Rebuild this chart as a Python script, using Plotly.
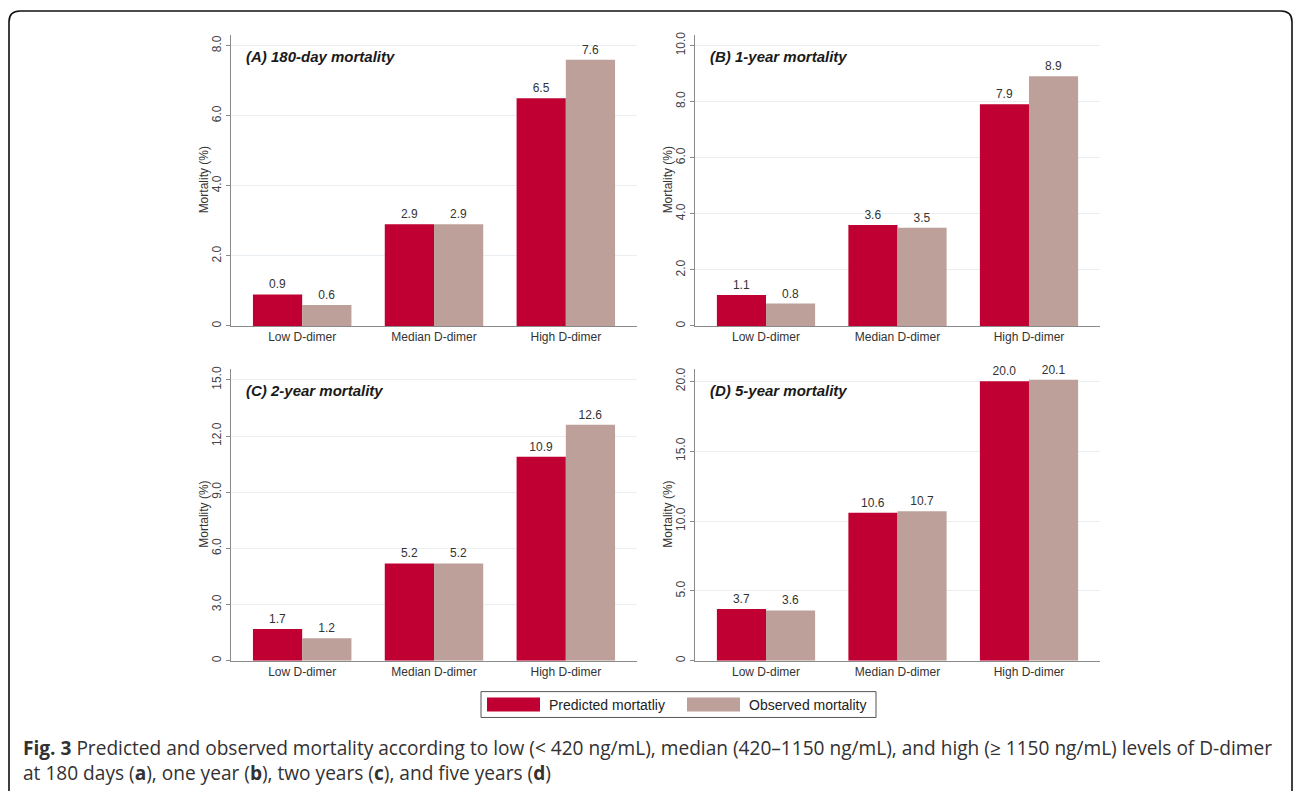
import plotly.graph_objects as go

W, H = 1296, 791

categories = ["Low D-dimer", "Median D-dimer", "High D-dimer"]
series_names = ["Predicted mortatliy", "Observed mortality"]

panel_titles = ["(A) 180-day mortality", "(B) 1-year mortality",
                "(C) 2-year mortality", "(D) 5-year mortality"]

predicted_180d = [0.9, 2.9, 6.5]
observed_180d = [0.6, 2.9, 7.6]
predicted_1y = [1.1, 3.6, 7.9]
observed_1y = [0.8, 3.5, 8.9]
predicted_2y = [1.7, 5.2, 10.9]
observed_2y = [1.2, 5.2, 12.6]
predicted_5y = [3.7, 10.6, 20.0]
observed_5y = [3.6, 10.7, 20.1]

ticks_180d = [0, 2, 4, 6, 8]
ticks_1y = [0, 2, 4, 6, 8, 10]
ticks_2y = [0, 3, 6, 9, 12, 15]
ticks_5y = [0, 5, 10, 15, 20]
ticklabels_180d = ["0", "2.0", "4.0", "6.0", "8.0"]
ticklabels_1y = ["0", "2.0", "4.0", "6.0", "8.0", "10.0"]
ticklabels_2y = ["0", "3.0", "6.0", "9.0", "12.0", "15.0"]
ticklabels_5y = ["0", "5.0", "10.0", "15.0", "20.0"]

y_max = [8.31, 10.38, 15.6, 20.9]

PRED_COLOR = "#c00032"
OBS_COLOR = "#bda09a"
FONT = "Arial, Liberation Sans, sans-serif"
TXT = "#333333"
AXIS = "#8a8a8a"
GRID = "#e8eef1"


def px_x(x):
    return x / W


def px_y(y):
    return 1 - y / H


# pixel boxes of each plot area: (left, right, top, bottom)
boxes = [(231, 637, 32, 325), (695, 1100, 32, 325),
         (231, 637, 368, 662), (695, 1100, 368, 662)]

predicted = [predicted_180d, predicted_1y, predicted_2y, predicted_5y]
observed = [observed_180d, observed_1y, observed_2y, observed_5y]
tickvals = [ticks_180d, ticks_1y, ticks_2y, ticks_5y]
ticktexts = [ticklabels_180d, ticklabels_1y, ticklabels_2y, ticklabels_5y]

fig = go.Figure()
layout = {}
annotations = []
shapes = []

for i in range(4):
    n = "" if i == 0 else str(i + 1)
    xa, ya = "x" + n, "y" + n
    for vals, color, name in ((predicted[i], PRED_COLOR, series_names[0]),
                              (observed[i], OBS_COLOR, series_names[1])):
        fig.add_trace(go.Bar(
            x=categories, y=vals, name=name, xaxis=xa, yaxis=ya,
            marker=dict(color=color, line=dict(width=0)),
            text=[f"{v:.1f}" for v in vals], textposition="outside",
            textfont=dict(family=FONT, size=12, color=TXT),
            cliponaxis=False, showlegend=False, offsetgroup=name,
        ))
    l, r, t, b = boxes[i]
    layout["xaxis" + n] = dict(
        domain=[px_x(l), px_x(r)], anchor=ya, type="category",
        range=[-0.54, 2.54], showline=True, linecolor=AXIS, linewidth=1,
        ticks="", showgrid=False, zeroline=False,
        tickfont=dict(family=FONT, size=12, color=TXT),
    )
    layout["yaxis" + n] = dict(
        domain=[px_y(b), px_y(t)], anchor=xa, range=[0, y_max[i]],
        tickvals=tickvals[i], ticktext=ticktexts[i], tickangle=-90,
        ticks="outside", ticklen=4, tickcolor=AXIS,
        showline=True, linecolor=AXIS, linewidth=1,
        showgrid=True, gridcolor=GRID, gridwidth=1, zeroline=False,
        tickfont=dict(family=FONT, size=12, color="#444444"),
    )
    # y axis title
    annotations.append(dict(
        text="Mortality (%)", textangle=-90, xref="paper", yref="paper",
        x=px_x(l - 27), y=px_y((t + b) / 2), xanchor="center", yanchor="middle",
        showarrow=False, font=dict(family=FONT, size=12, color=TXT),
    ))
    # panel title
    annotations.append(dict(
        text="<b><i>" + panel_titles[i] + "</i></b>", xref="paper", yref="paper",
        x=px_x(l + 13), y=px_y(t + 22), xanchor="left", yanchor="middle",
        showarrow=False, font=dict(family=FONT, size=15, color="#1a1a1a"),
    ))

# legend box
shapes.append(dict(type="rect", xref="paper", yref="paper",
                   x0=px_x(481), x1=px_x(876), y0=px_y(719), y1=px_y(693),
                   line=dict(color="#555555", width=1), fillcolor="white"))
for sx, color, name in ((487, PRED_COLOR, series_names[0]),
                        (687, OBS_COLOR, series_names[1])):
    shapes.append(dict(type="rect", xref="paper", yref="paper",
                       x0=px_x(sx), x1=px_x(sx + 53), y0=px_y(713), y1=px_y(699),
                       line=dict(width=0), fillcolor=color))
    annotations.append(dict(
        text=name, xref="paper", yref="paper", x=px_x(sx + 60), y=px_y(706),
        xanchor="left", yanchor="middle", showarrow=False,
        font=dict(family=FONT, size=14, color="#222222"),
    ))

# caption
CAP_FONT = "Open Sans, Noto Sans, sans-serif"
caption_1 = ("<b>Fig. 3</b> Predicted and observed mortality according to low "
             "(&lt; 420 ng/mL), median (420–1150 ng/mL), and high (≥ 1150 ng/mL) "
             "levels of D-dimer")
caption_2 = ("at 180 days (<b>a</b>), one year (<b>b</b>), two years (<b>c</b>), "
             "and five years (<b>d</b>)")
for txt, yc in ((caption_1, 750), (caption_2, 775)):
    annotations.append(dict(
        text=txt, xref="paper", yref="paper", x=px_x(21), y=px_y(yc),
        xanchor="left", yanchor="middle", showarrow=False,
        font=dict(family=CAP_FONT, size=19.1, color="#333132"),
    ))

# rounded frame around the figure
x0, x1, y0, y1, rad = 9, 1292, 8, 805, 11
path = (f"M {x0} {y1} L {x0} {y0 + rad} Q {x0} {y0} {x0 + rad} {y0} "
        f"L {x1 - rad} {y0} Q {x1} {y0} {x1} {y0 + rad} L {x1} {y1} "
        f"L {x0} {y1} Z")


def conv_path(p):
    toks = p.split()
    out = []
    coords = []
    for tk in toks:
        if tk.isalpha():
            out.append(tk)
        else:
            coords.append(float(tk))
            if len(coords) == 2:
                out.append(f"{px_x(coords[0]):.5f},{px_y(coords[1]):.5f}")
                coords = []
    return " ".join(out)


shapes.append(dict(type="path", xref="paper", yref="paper", path=conv_path(path),
                   line=dict(color="#111111", width=1.6), layer="above"))

fig.update_layout(
    width=W, height=H, margin=dict(l=0, r=0, t=0, b=0),
    paper_bgcolor="white", plot_bgcolor="white",
    barmode="group", bargap=0.253, bargroupgap=0,
    showlegend=False, annotations=annotations, shapes=shapes,
    **layout,
)

fig.write_html("out.html")
